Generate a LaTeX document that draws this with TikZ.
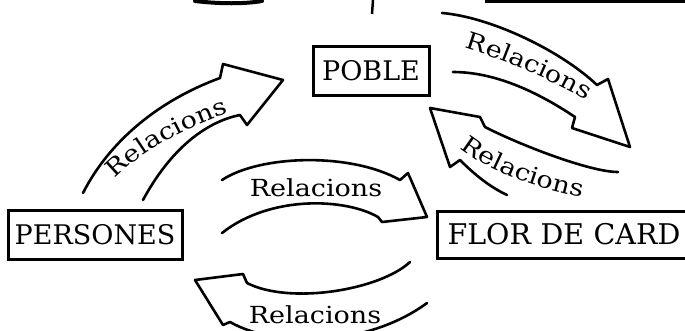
\documentclass[tikz,border=0pt]{standalone}
\usepackage{fontspec}
\setmainfont{DejaVu Serif}
\newfontfamily\relfont[FakeStretch=1.15]{DejaVu Serif}
\usetikzlibrary{decorations.text}
\begin{document}
\begin{tikzpicture}[x=1pt,y=-1pt,
  box/.style={draw, line width=3pt, inner sep=0pt, minimum height=49pt},
  boxfont/.style={font=\fontsize{#1}{#1}\selectfont},
  arr/.style={draw, line width=2.6pt, line join=round, line cap=round},
  lbl/.style={font=\relfont\fontsize{23.5}{23.5}\selectfont},
  curvelbl/.style={decorate, decoration={text along path, text align=center,
     text={|\relfont\fontsize{23.5}{23.5}\selectfont|#1}}}]
\useasboundingbox (0,0) rectangle (685,330);
\clip (0,0) rectangle (685,330);

% boxes
\node[box, minimum width=174pt, boxfont=27] (persones) at (95,234.5) {PERSONES};
\node[box, minimum width=116pt, boxfont=27] (poble) at (371,70.5) {POBLE};
\node[box, anchor=west, text width=250pt, inner xsep=10pt, minimum height=47pt, boxfont=28.5] (flor) at (436,234.5) {FLOR DE CARD};

% arrow 1: PERSONES -> POBLE
\draw[arr] (83,193) .. controls (110,140) and (160,100) .. (220,78)
  -- (223,64) -- (283,80) -- (247,125) -- (240,115)
  .. controls (205,122) and (170,150) .. (143,200);
\path[curvelbl=Relacions] (112,182) .. controls (135,155) and (190,125) .. (232,112);

% arrow 2: POBLE -> FLOR DE CARD (upper right)
\draw[arr] (442,13) .. controls (490,17) and (560,50) .. (597,85)
  -- (608,79) -- (630,147) -- (572,128) -- (575,117)
  .. controls (545,97) and (500,72) .. (453,72);
\path[curvelbl=Relacions] (465,48) .. controls (500,58) and (555,82) .. (586,100);

% arrow 3: FLOR DE CARD -> POBLE
\draw[arr] (618,172) .. controls (590,172) and (520,145) .. (485,127)
  -- (480,117) -- (430,108) -- (450,167) -- (460,160)
  .. controls (475,175) and (490,187) .. (507,195);
\path[curvelbl=Relacions] (460,148) .. controls (482,168) and (540,190) .. (582,197);

% arrow 4: PERSONES -> FLOR DE CARD
\draw[arr] (222,180) .. controls (260,155) and (350,152) .. (400,180)
  -- (408,173) -- (427,217) -- (382,222) -- (378,217)
  .. controls (345,198) and (270,195) .. (222,233);
\node[lbl, anchor=base] (l4) at (316,196) {Relacions};

% arrow 5: FLOR DE CARD -> PERSONES
\draw[arr] (410,262) .. controls (380,290) and (290,305) .. (247,283)
  -- (243,274) -- (195,280) -- (223,325) -- (230,322)
  .. controls (280,350) and (370,345) .. (427,303);
\node[lbl, anchor=base] (l5) at (315,323) {Relacions};

% cropped fragments at the top edge
\draw[line width=4pt, line cap=round] (195,1) .. controls (220,4) and (245,4) .. (262,1);
\draw[line width=2.5pt] (373,0) -- (372,14);
\draw[line width=3pt] (485,1) -- (690,1);
\end{tikzpicture}
\end{document}
